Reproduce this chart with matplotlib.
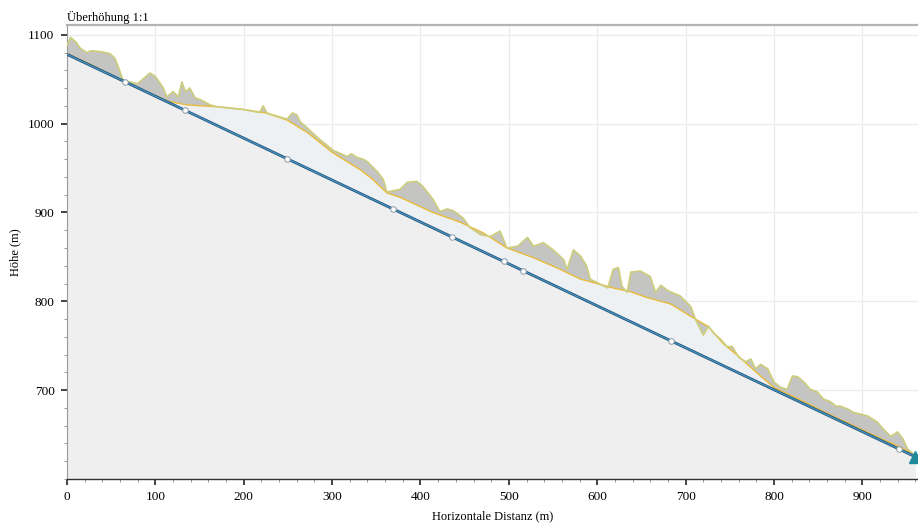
import numpy as np
import matplotlib
matplotlib.use("Agg")
import matplotlib.pyplot as plt
from matplotlib.ticker import MultipleLocator

plt.rcParams['font.family'] = ['Liberation Serif', 'DejaVu Serif']

# Surface incl. vegetation (DSM)
dsm_x = [0, 4, 10, 15, 22, 28, 38, 48, 54, 58, 63, 66, 80, 94, 100, 109, 113, 120, 126, 130, 134,
         139, 145, 151, 162, 170, 199, 218, 222, 226, 249, 255, 260, 264, 272, 285, 301, 317, 322,
         328, 335, 340, 346, 352, 358, 362, 377, 385, 396, 403, 414, 422, 430, 437, 448, 456, 468,
         479, 490, 498, 510, 521, 528, 539, 550, 562, 566, 573, 581, 588, 592, 604, 612, 618, 624,
         628, 634, 638, 649, 660, 666, 672, 680, 694, 706, 711, 714, 720, 726, 732, 740, 747, 753,
         760, 768, 774, 779, 785, 793, 800, 808, 815, 821, 827, 834, 841, 849, 856, 864, 870, 875,
         883, 890, 898, 906, 917, 924, 932, 940, 946, 951, 958, 960]
dsm_y = [1088, 1097, 1092, 1085, 1080, 1082, 1081, 1079, 1074, 1064, 1050, 1048, 1045, 1057, 1053,
         1040, 1030, 1036, 1030, 1047, 1036, 1040, 1029, 1027, 1021, 1019, 1016, 1012.5, 1020, 1012,
         1005, 1012, 1010, 1002, 995, 983, 970, 963, 966, 962, 960, 957, 951, 945, 937, 923, 926, 934,
         935, 929, 915, 901, 904, 902, 894, 883, 875, 873, 879, 860, 862, 872, 862, 866, 858, 847,
         836, 858, 851, 840, 825, 819, 815, 836, 838, 817, 810, 833, 834, 828, 810, 818, 812, 806,
         794, 780, 774, 762, 772, 764, 757, 749, 749, 737, 732, 735, 724, 729, 724, 709, 703, 701,
         716, 715, 709, 701, 698, 690, 687, 682, 682, 679, 675, 673, 671, 664, 656, 648, 653, 645,
         634, 628, 626]

# Terrain (DTM)
dtm_x = [0, 30, 60, 90, 115, 136, 170, 199, 225, 249, 272, 301, 332, 345, 362, 377, 414, 445, 471,
         498, 528, 558, 581, 618, 637, 657, 683, 706, 725, 743, 760, 780, 800, 830, 860, 890, 920,
         945, 960]
dtm_y = [1079, 1065, 1050, 1036, 1025, 1021, 1019, 1016, 1012, 1004, 990, 967, 948, 938, 922, 917,
         900, 889, 877, 860, 849, 836, 825, 815, 811, 804, 797, 783, 772, 752, 738, 720, 703, 689,
         674, 660, 646, 635, 626]

# Straight line (start / end) and marked points
line_x = [0, 960]
line_y = [1078, 625]
mark_x = [66, 134, 249, 369, 436, 494, 516, 683, 941]

x_ticks = [0, 100, 200, 300, 400, 500, 600, 700, 800, 900]
y_ticks = [700, 800, 900, 1000, 1100]

fig = plt.figure(figsize=(9.18, 5.28), dpi=100)
ax = fig.add_axes([67 / 918, 1 - 479 / 528, 1 - 67 / 918, (479 - 25) / 528])
ax.set_xlim(0, 963)
ax.set_ylim(600, 1111)

# Fills
ax.fill_between(line_x, line_y, 600, color='#efefef', lw=0, zorder=1)
ax.fill(np.r_[dtm_x, line_x[::-1]], np.r_[dtm_y, line_y[::-1]], color='#eef1f4', lw=0, zorder=1)
ax.fill(np.r_[dsm_x, dtm_x[::-1]], np.r_[dsm_y, dtm_y[::-1]], color='#c4c4c2', lw=0, zorder=2)
ax.plot(dtm_x, dtm_y, color='#e8bc3a', lw=1.0, zorder=3)
ax.plot(dsm_x, dsm_y, color='#cdce7c', lw=1.2, zorder=3)

# Line with markers
ax.plot(line_x, line_y, color='#22557a', lw=2.0, zorder=4, solid_capstyle='butt')
ax.plot(line_x, line_y, color='#4a98c6', lw=0.8, zorder=4)
mark_y = np.interp(mark_x, line_x, line_y)
ax.plot(mark_x, mark_y, 'o', ms=4, mfc='white', mec='#8a9aa4', mew=0.7, zorder=5)
ax.plot([line_x[-1]], [line_y[-1]], '^', ms=8, color='#1f8a98', zorder=6, clip_on=False)

# Grid and ticks
ax.set_xticks(x_ticks)
ax.set_yticks(y_ticks)
ax.xaxis.set_minor_locator(MultipleLocator(20))
ax.yaxis.set_minor_locator(MultipleLocator(20))
ax.grid(True, which='major', color='#ebebeb', lw=0.9, zorder=0)
ax.set_axisbelow(True)
ax.tick_params(which='major', length=4, width=1.2, color='#222222', labelsize=9.5, pad=5)
ax.tick_params(which='minor', length=2, width=0.6, color='#888888')

ax.spines['right'].set_visible(False)
ax.spines['top'].set_color('#b4b4b4')
ax.spines['top'].set_linewidth(1.6)
ax.spines['left'].set_color('#999999')
ax.spines['left'].set_linewidth(0.8)
ax.spines['bottom'].set_color('#333333')
ax.spines['bottom'].set_linewidth(1.0)

ax.set_xlabel('Horizontale Distanz (m)', fontsize=9, labelpad=5)
ax.set_ylabel('Höhe (m)', fontsize=9, labelpad=5)
ax.set_title('Überhöhung 1:1', loc='left', fontsize=9, pad=3)

fig.savefig('out.png', dpi=100)
